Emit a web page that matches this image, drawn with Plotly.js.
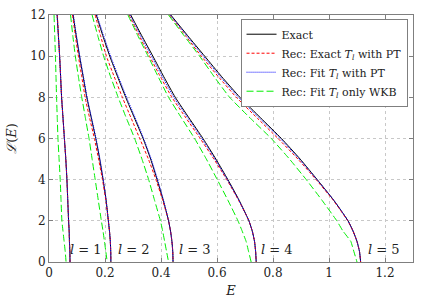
<!DOCTYPE html>
<html>
<head>
<meta charset="utf-8">
<script src="https://cdn.plot.ly/plotly-3.0.1.min.js"></script>
<style>html,body{margin:0;padding:0;background:#fff;}#chart{width:436px;height:305px;}</style>
</head>
<body>
<div id="chart"></div>
<script>
// Shared vertical grid of L(E) values
const Lgrid = [12, 11, 10, 9, 8, 7, 6, 5, 4, 3, 2, 1.5, 1, 0.5, 0];

// Exact (black)
const exact_l1 = [0.029, 0.0335, 0.038, 0.0415, 0.045, 0.050, 0.055, 0.060, 0.064, 0.067, 0.070, 0.072, 0.073, 0.0745, 0.075];
const exact_l2 = [0.086, 0.097, 0.109, 0.122, 0.135, 0.151, 0.167, 0.181, 0.193, 0.204, 0.212, 0.216, 0.219, 0.2205, 0.221];
const exact_l3 = [0.169, 0.192, 0.217, 0.245, 0.274, 0.305, 0.336, 0.363, 0.386, 0.408, 0.427, 0.434, 0.439, 0.442, 0.443];
const exact_l4 = [0.292, 0.331, 0.371, 0.410, 0.451, 0.500, 0.550, 0.596, 0.639, 0.679, 0.714, 0.726, 0.734, 0.738, 0.740];
const exact_l5 = [0.435, 0.495, 0.556, 0.617, 0.682, 0.756, 0.830, 0.897, 0.958, 1.017, 1.068, 1.086, 1.100, 1.109, 1.113];

// Rec: Exact T_l with PT (red)
const recExact_l1 = [0.030, 0.0338, 0.038, 0.0415, 0.045, 0.050, 0.055, 0.060, 0.064, 0.067, 0.070, 0.072, 0.073, 0.0745, 0.075];
const recExact_l2 = [0.084, 0.094, 0.105, 0.117, 0.129, 0.145, 0.162, 0.177, 0.191, 0.203, 0.212, 0.216, 0.219, 0.2205, 0.221];
const recExact_l3 = [0.165, 0.184, 0.205, 0.233, 0.262, 0.293, 0.324, 0.355, 0.382, 0.406, 0.427, 0.434, 0.439, 0.442, 0.443];
const recExact_l4 = [0.286, 0.322, 0.359, 0.398, 0.439, 0.489, 0.540, 0.589, 0.635, 0.677, 0.714, 0.726, 0.734, 0.738, 0.740];
const recExact_l5 = [0.431, 0.487, 0.544, 0.605, 0.669, 0.743, 0.818, 0.889, 0.954, 1.015, 1.067, 1.086, 1.100, 1.109, 1.113];

// Rec: Fit T_l with PT (blue)
const recFit_l1 = [0.029, 0.0335, 0.038, 0.0415, 0.045, 0.050, 0.055, 0.060, 0.064, 0.067, 0.070, 0.072, 0.073, 0.0745, 0.075];
const recFit_l2 = [0.087, 0.098, 0.110, 0.123, 0.136, 0.152, 0.168, 0.182, 0.194, 0.204, 0.212, 0.216, 0.219, 0.2205, 0.221];
const recFit_l3 = [0.171, 0.195, 0.220, 0.248, 0.277, 0.308, 0.338, 0.365, 0.388, 0.409, 0.427, 0.434, 0.439, 0.442, 0.443];
const recFit_l4 = [0.289, 0.327, 0.366, 0.405, 0.446, 0.496, 0.546, 0.593, 0.637, 0.678, 0.714, 0.726, 0.734, 0.738, 0.740];
const recFit_l5 = [0.433, 0.492, 0.551, 0.612, 0.677, 0.751, 0.826, 0.894, 0.957, 1.017, 1.068, 1.086, 1.100, 1.109, 1.113];

// Rec: Fit T_l only WKB (green)
const wkb_l1 = [0.018, 0.0205, 0.023, 0.025, 0.027, 0.0295, 0.032, 0.036, 0.040, 0.043, 0.046, 0.050, 0.054, 0.058, 0.061];
const wkb_l2 = [0.077, 0.085, 0.094, 0.105, 0.117, 0.130, 0.143, 0.154, 0.165, 0.176, 0.187, 0.193, 0.198, 0.203, 0.208];
const wkb_l3 = [0.154, 0.174, 0.195, 0.220, 0.247, 0.276, 0.306, 0.332, 0.356, 0.377, 0.398, 0.406, 0.413, 0.420, 0.427];
const wkb_l4 = [0.282, 0.317, 0.354, 0.390, 0.427, 0.473, 0.520, 0.562, 0.601, 0.639, 0.675, 0.690, 0.704, 0.713, 0.722];
const wkb_l5 = [0.427, 0.482, 0.538, 0.590, 0.645, 0.718, 0.794, 0.859, 0.919, 0.975, 1.028, 1.050, 1.078, 1.089, 1.100];

// Curve labels
const labelText = ["<i>l</i> = 1", "<i>l</i> = 2", "<i>l</i> = 3", "<i>l</i> = 4", "<i>l</i> = 5"];
const labelE = [0.132, 0.302, 0.520, 0.814, 1.196];
const labelL = [0.6, 0.6, 0.6, 0.6, 0.6];

const xTicks = [0, 0.2, 0.4, 0.6, 0.8, 1, 1.2];
const xTickText = ["0", "0.2", "0.4", "0.6", "0.8", "1", "1.2"];
const yTicks = [0, 2, 4, 6, 8, 10, 12];

const FAM = "DejaVu Serif, serif";

const seriesDefs = [
  {name: "Exact", data: [exact_l1, exact_l2, exact_l3, exact_l4, exact_l5],
   line: {color: "#000000", width: 1, dash: "solid", shape: "spline", smoothing: 0.5}},
  {name: "Rec: Exact <i>T</i><sub><i>l</i></sub> with PT", data: [recExact_l1, recExact_l2, recExact_l3, recExact_l4, recExact_l5],
   line: {color: "#ff0000", width: 1, dash: "3px,2px", shape: "spline", smoothing: 0.5}},
  {name: "Rec: Fit <i>T</i><sub><i>l</i></sub> with PT", data: [recFit_l1, recFit_l2, recFit_l3, recFit_l4, recFit_l5],
   line: {color: "#0000ff", width: 1, dash: "1px,1px", shape: "spline", smoothing: 0.5}},
  {name: "Rec: Fit <i>T</i><sub><i>l</i></sub> only WKB", data: [wkb_l1, wkb_l2, wkb_l3, wkb_l4, wkb_l5],
   line: {color: "#00ee00", width: 1, dash: "7px,3px", shape: "spline", smoothing: 0.3}}
];

const traces = [];
seriesDefs.forEach((s, si) => {
  s.data.forEach((arr, li) => {
    traces.push({
      type: "scatter", mode: "lines",
      x: arr, y: Lgrid,
      name: s.name, legendgroup: "g" + si,
      showlegend: li === 0,
      line: s.line,
      hoverinfo: "skip"
    });
  });
});

const annotations = labelText.map((t, i) => ({
  x: labelE[i], y: labelL[i], xref: "x", yref: "y",
  text: t, showarrow: false, font: {family: FAM, size: 13, color: "#222"},
  xanchor: "center", yanchor: "middle"
}));

const axisCommon = {
  showline: true, linecolor: "#7f7f7f", linewidth: 1, mirror: "ticks",
  ticks: "inside", ticklen: 4, tickcolor: "#7f7f7f",
  showgrid: true, gridcolor: "#c8c8c8", griddash: "dot", gridwidth: 1,
  zeroline: false, tickfont: {family: FAM, size: 12, color: "#222"}
};

const layout = {
  width: 436, height: 305,
  margin: {l: 49, r: 23, t: 15, b: 43},
  paper_bgcolor: "#ffffff", plot_bgcolor: "#ffffff",
  font: {family: FAM, size: 12, color: "#222"},
  showlegend: true,
  legend: {
    x: 0.985, y: 0.985, xanchor: "right", yanchor: "top",
    bgcolor: "#ffffff", bordercolor: "#7f7f7f", borderwidth: 1,
    font: {family: FAM, size: 11, color: "#222"},
    tracegroupgap: 0, itemwidth: 30
  },
  xaxis: Object.assign({}, axisCommon, {
    range: [0, 1.3], tickvals: xTicks, ticktext: xTickText,
    title: {text: "<i>E</i>", font: {family: FAM, size: 13, color: "#222"}, standoff: 6}
  }),
  yaxis: Object.assign({}, axisCommon, {
    range: [0, 12], tickvals: yTicks,
    title: {text: "<i>ℒ</i>(<i>E</i>)", font: {family: FAM, size: 13, color: "#222"}, standoff: 10}
  }),
  annotations: annotations
};

Plotly.newPlot("chart", traces, layout, {staticPlot: true, displayModeBar: false});
</script>
</body>
</html>
